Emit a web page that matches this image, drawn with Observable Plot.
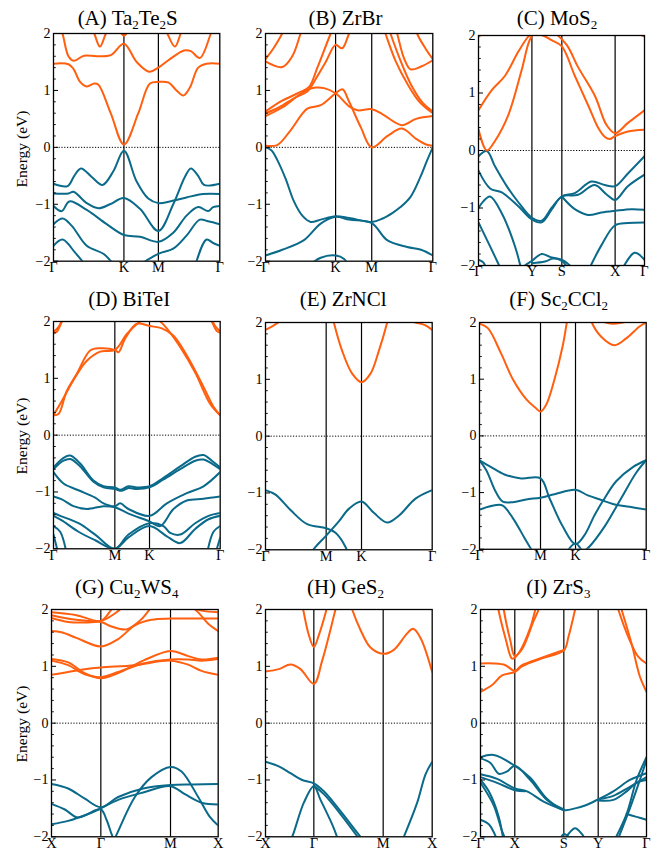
<!DOCTYPE html>
<html><head><meta charset="utf-8">
<script src="https://cdn.jsdelivr.net/npm/d3@7"></script>
<script src="https://cdn.jsdelivr.net/npm/@observablehq/plot@0.6"></script>
<style>
body{margin:0;background:#fff}
#root{position:relative;width:654px;height:849px;font-family:"Liberation Serif","Times New Roman","DejaVu Serif",serif;color:#000;overflow:hidden}
.ttl{position:absolute;width:220px;text-align:center;font-size:21px;line-height:21px;white-space:nowrap}
.ttl sub{font-size:0.62em;line-height:0;vertical-align:-0.32em}
.ylab{position:absolute;width:140px;height:20px;line-height:20px;text-align:center;font-size:15.5px;transform:rotate(-90deg);white-space:nowrap}
svg{position:absolute}
svg text{font-family:"Liberation Serif","Times New Roman","DejaVu Serif",serif}
</style></head>
<body><div id="root"></div>
<script>
// ---------- tick values ----------
const majorY = [-2, -1, 0, 1, 2];
const minorY = [-1.8,-1.6,-1.4,-1.2,-0.8,-0.6,-0.4,-0.2,0.2,0.4,0.6,0.8,1.2,1.4,1.6,1.8];
const titles = ["(A) Ta<sub>2</sub>Te<sub>2</sub>S","(B) ZrBr","(C) MoS<sub>2</sub>","(D) BiTeI","(E) ZrNCl","(F) Sc<sub>2</sub>CCl<sub>2</sub>","(G) Cu<sub>2</sub>WS<sub>4</sub>","(H) GeS<sub>2</sub>","(I) ZrS<sub>3</sub>"];

// ---------- (A) Ta2Te2S ----------
const kA = [0, 0.4235, 0.6307, 1];
const labA = ["Γ","K","M","Γ"];
const condA = [
 [[0,1.47],[0.09,1.46],[0.12,1.38],[0.16,1.15],[0.2,1.07],[0.245,1.12],[0.27,1.1],[0.344,0.6],[0.4235,0.05],[0.51,0.6],[0.58,1.12],[0.6307,1.15],[0.69,1.14],[0.74,1.0],[0.78,0.91],[0.82,1.05],[0.87,1.4],[0.92,1.47],[1,1.47]],
 [[0,2.5],[0.054,2.0],[0.09,1.6],[0.12,1.52],[0.184,1.61],[0.26,1.6],[0.345,1.62],[0.4235,1.82],[0.5,1.5],[0.575,1.33],[0.6307,1.4],[0.7,1.55],[0.785,1.7],[0.826,1.69],[0.88,1.57],[0.946,2.0],[1,2.5]],
 [[0.2,2.3],[0.245,2.0],[0.279,1.77],[0.315,2.0],[0.35,2.2]],
 [[0.39,2.1],[0.4235,1.96],[0.46,2.1]],
 [[0.65,2.3],[0.685,2.0],[0.73,1.77],[0.765,2.0],[0.8,2.3]]
];
const valA = [
 [[0,-0.64],[0.085,-0.68],[0.125,-0.5],[0.165,-0.37],[0.23,-0.52],[0.295,-0.66],[0.36,-0.42],[0.4235,-0.06],[0.5,-0.6],[0.57,-0.9],[0.6307,-0.98],[0.7,-0.95],[0.8,-0.88],[0.9,-0.82],[1,-0.82]],
 [[0,-0.81],[0.09,-0.81],[0.12,-0.78],[0.2,-0.98],[0.27,-1.07],[0.34,-1.0],[0.4235,-0.89],[0.52,-1.08],[0.6307,-1.47],[0.72,-1.0],[0.79,-0.52],[0.826,-0.37],[0.87,-0.5],[0.905,-0.66],[1,-0.64]],
 [[0,-1.03],[0.05,-1.12],[0.095,-0.95],[0.2,-1.1],[0.32,-1.35],[0.4235,-1.54],[0.52,-1.57],[0.6307,-1.66],[0.72,-1.5],[0.8,-1.2],[0.87,-1.05],[0.93,-1.12],[0.96,-1.05],[1,-1.03]],
 [[0,-1.35],[0.055,-1.25],[0.11,-1.38],[0.2,-1.73],[0.3,-1.87],[0.36,-2.05],[0.4,-2.2]],
 [[0,-1.73],[0.055,-1.62],[0.13,-1.85],[0.2,-2.1]],
 [[0.5,-2.1],[0.6307,-1.87],[0.72,-1.78],[0.8,-1.55],[0.88,-1.27],[0.93,-1.3],[1,-1.35]],
 [[0.85,-2.1],[0.92,-1.62],[0.96,-1.68],[1,-1.73]]
];

// ---------- (B) ZrBr ----------
const kB = [0, 0.419, 0.635, 1];
const labB = ["Γ","K","M","Γ"];
const condB = [
 [[0,0.03],[0.07,0.04],[0.15,0.3],[0.25,0.68],[0.33,0.74],[0.419,0.95],[0.46,1.02],[0.5,0.8],[0.57,0.35],[0.635,0.0],[0.73,0.2],[0.815,0.33],[0.9,0.15],[0.96,0.05],[1,0.03]],
 [[0,0.55],[0.1,0.7],[0.2,0.92],[0.25,1.01],[0.3,1.05],[0.35,1.04],[0.419,0.95],[0.5,0.72],[0.55,0.65],[0.635,0.67],[0.7,0.58],[0.815,0.39],[0.9,0.5],[1,0.55]],
 [[0,0.6],[0.08,0.7],[0.18,0.88],[0.25,0.98],[0.3,1.2],[0.36,1.5],[0.419,1.8],[0.458,1.74],[0.5,2.0],[0.55,2.3]],
 [[0,0.63],[0.1,0.82],[0.2,0.96],[0.26,1.06],[0.31,1.4],[0.39,2.0],[0.45,2.4]],
 [[0,1.51],[0.1,1.41],[0.16,1.6],[0.21,2.0],[0.26,2.4]],
 [[0,1.55],[0.05,1.75],[0.1,2.0],[0.15,2.3]],
 [[0.65,2.6],[0.717,2.0],[0.78,1.5],[0.847,1.12],[0.92,0.8],[1,0.6]],
 [[0.68,2.6],[0.747,2.0],[0.81,1.5],[0.87,1.1],[0.94,0.78],[1,0.63]],
 [[0.75,2.4],[0.787,2.0],[0.83,1.55],[0.867,1.37],[0.93,1.42],[1,1.53]],
 [[0.87,2.4],[0.906,2.0],[0.96,1.72],[1,1.55]]
];
const valB = [
 [[0,0],[0.035,-0.05],[0.07,-0.22],[0.12,-0.55],[0.17,-0.95],[0.22,-1.2],[0.27,-1.31],[0.33,-1.27],[0.419,-1.21],[0.5,-1.24],[0.635,-1.31],[0.7,-1.25],[0.76,-1.15],[0.807,-1.05],[0.867,-0.87],[0.926,-0.52],[0.966,-0.23],[1,0]],
 [[0,-1.9],[0.1,-1.8],[0.23,-1.63],[0.33,-1.34],[0.419,-1.22],[0.5,-1.27],[0.635,-1.33],[0.727,-1.63],[0.847,-1.75],[0.93,-1.8],[1,-1.9]],
 [[0.25,-2.1],[0.33,-1.94],[0.419,-1.9],[0.47,-1.96],[0.5,-2.1]]
];

// ---------- (C) MoS2 ----------
const kC = [0, 0.3217, 0.502, 0.823, 1];
const labC = ["Γ","Y","S","X","Γ"];
const condC = [
 [[0,0.7],[0.08,1.05],[0.16,1.3],[0.24,1.72],[0.3,1.98],[0.3217,2.02],[0.38,2.01],[0.44,1.92],[0.502,1.81],[0.58,1.3],[0.663,0.77],[0.72,0.4],[0.76,0.24],[0.79,0.2],[0.823,0.25],[0.9,0.33],[1,0.36]],
 [[0,0.37],[0.05,0.0],[0.1,0.17],[0.18,0.62],[0.26,1.4],[0.31,1.93],[0.35,2.08],[0.45,2.05],[0.53,1.84],[0.6,1.45],[0.703,0.94],[0.77,0.45],[0.823,0.3],[0.9,0.48],[1,0.7]],
 [[0.9,2.3],[0.97,2.03],[1,1.98]],
 [[0,1.98],[0.03,2.05],[0.06,2.2]]
];
const valC = [
 [[0,-0.1],[0.05,-0.01],[0.1,-0.28],[0.17,-0.62],[0.24,-0.9],[0.3217,-1.17],[0.38,-1.22],[0.44,-1.0],[0.502,-0.8],[0.58,-0.74],[0.68,-0.54],[0.76,-0.6],[0.823,-0.62],[0.9,-0.4],[1,-0.1]],
 [[0,-0.35],[0.07,-0.66],[0.14,-0.73],[0.24,-0.97],[0.3217,-1.2],[0.38,-1.25],[0.44,-1.03],[0.502,-0.8],[0.6,-0.77],[0.7,-0.6],[0.77,-0.76],[0.823,-0.86],[0.9,-0.62],[1,-0.42]],
 [[0,-1.0],[0.03,-0.88],[0.07,-0.8],[0.14,-1.09],[0.22,-1.67],[0.26,-2.1]],
 [[0,-1.25],[0.05,-1.55],[0.1,-1.85],[0.14,-2.1]],
 [[0,-1.9],[0.03,-1.95],[0.05,-2.1]],
 [[0.502,-0.8],[0.58,-1.02],[0.66,-1.12],[0.74,-1.08],[0.823,-1.05],[0.92,-1.02],[1,-1.03]],
 [[0.66,-2.1],[0.74,-1.65],[0.823,-1.3],[0.9,-1.26],[1,-1.25]],
 [[0.2,-2.2],[0.28,-2.0],[0.3217,-1.92],[0.38,-1.8],[0.43,-1.85],[0.502,-1.9],[0.55,-2.0],[0.6,-2.2]],
 [[0.3217,-1.96],[0.4,-1.93],[0.45,-1.88],[0.502,-1.92],[0.55,-2.1]],
 [[0.86,-2.1],[0.94,-1.78],[1,-1.9]]
];

// ---------- (D) BiTeI ----------
const kD = [0, 0.368, 0.576, 1];
const labD = ["Γ","M","K","Γ"];
const condD = [
 [[0,0.35],[0.03,0.37],[0.08,0.78],[0.14,1.08],[0.22,1.49],[0.28,1.53],[0.368,1.5],[0.39,1.46],[0.43,1.7],[0.5,1.96],[0.576,1.92],[0.65,1.88],[0.72,1.75],[0.8,1.4],[0.9,0.85],[0.96,0.5],[1,0.35]],
 [[0,0.35],[0.05,0.6],[0.13,1.02],[0.2,1.31],[0.28,1.47],[0.368,1.5],[0.44,1.78],[0.52,2.0],[0.58,2.1],[0.64,2.0],[0.69,1.84],[0.76,1.55],[0.85,1.1],[0.94,0.55],[1,0.35]],
 [[0,1.8],[0.02,1.82],[0.05,2.0],[0.08,2.2]],
 [[0,1.82],[0.03,1.9],[0.06,2.1]],
 [[0.92,2.2],[0.95,2.0],[0.98,1.83],[1,1.8]],
 [[0.94,2.1],[0.97,1.92],[1,1.83]]
];
const valD = [
 [[0,-0.57],[0.06,-0.4],[0.1,-0.36],[0.16,-0.5],[0.24,-0.8],[0.3,-0.9],[0.368,-0.92],[0.4,-0.96],[0.45,-0.9],[0.5,-0.92],[0.576,-0.9],[0.66,-0.75],[0.76,-0.55],[0.85,-0.38],[0.9,-0.35],[0.95,-0.45],[1,-0.57]],
 [[0,-0.6],[0.06,-0.45],[0.1,-0.42],[0.16,-0.55],[0.24,-0.82],[0.3,-0.92],[0.368,-0.95],[0.41,-0.98],[0.45,-0.93],[0.5,-0.95],[0.576,-0.92],[0.66,-0.78],[0.76,-0.6],[0.85,-0.45],[0.9,-0.43],[0.95,-0.5],[1,-0.6]],
 [[0,-0.65],[0.06,-0.85],[0.15,-0.97],[0.25,-1.1],[0.3,-1.2],[0.368,-1.25],[0.4,-1.2],[0.45,-1.3],[0.576,-1.42],[0.68,-1.2],[0.8,-1.02],[0.9,-0.9],[1,-0.65]],
 [[0,-1.08],[0.05,-1.13],[0.12,-1.25],[0.2,-1.3],[0.3,-1.25],[0.368,-1.27],[0.45,-1.38],[0.576,-1.52],[0.64,-1.6],[0.72,-1.3],[0.8,-1.15],[0.9,-1.12],[1,-1.08]],
 [[0,-1.37],[0.04,-1.42],[0.15,-1.55],[0.25,-1.75],[0.368,-2.0],[0.45,-1.75],[0.576,-1.55],[0.66,-1.6],[0.7,-1.72],[0.76,-1.75],[0.85,-1.55],[0.93,-1.42],[1,-1.37]],
 [[0,-1.42],[0.05,-1.5],[0.15,-1.7],[0.25,-1.85],[0.368,-2.0],[0.45,-1.8],[0.576,-1.6],[0.68,-1.78],[0.76,-1.9],[0.85,-1.65],[0.93,-1.48],[1,-1.42]],
 [[0,-1.6],[0.04,-1.7],[0.08,-2.1]],
 [[0.92,-2.1],[0.96,-1.7],[1,-1.6]],
 [[0,-1.75],[0.03,-2.1]],
 [[0.97,-2.1],[1,-1.8]]
];

// ---------- (E) ZrNCl ----------
const kE = [0, 0.364, 0.576, 1];
const labE = ["Γ","M","K","Γ"];
const condE = [
 [[0.38,2.4],[0.41,2.0],[0.46,1.5],[0.52,1.1],[0.576,0.95],[0.63,1.1],[0.68,1.5],[0.73,2.0],[0.76,2.4]],
 [[0,1.87],[0.05,1.95],[0.1,2.05]],
 [[0.84,2.05],[0.9,2.0],[0.96,1.95],[1,1.87]]
];
const valE = [
 [[0,-0.95],[0.06,-1.03],[0.15,-1.3],[0.25,-1.55],[0.364,-1.62],[0.42,-1.7],[0.48,-1.95],[0.51,-2.2]],
 [[0.26,-2.1],[0.3,-1.95],[0.364,-1.75],[0.44,-1.5],[0.5,-1.28],[0.576,-1.15],[0.65,-1.35],[0.73,-1.52],[0.8,-1.4],[0.9,-1.1],[1,-0.95]]
];

// ---------- (F) Sc2CCl2 ----------
const kF = [0, 0.366, 0.576, 1];
const labF = ["Γ","M","K","Γ"];
const condF = [
 [[0,1.98],[0.05,1.9],[0.13,1.45],[0.2,1.0],[0.28,0.65],[0.334,0.5],[0.366,0.43],[0.4,0.55],[0.45,1.0],[0.5,1.6],[0.524,2.0],[0.55,2.4]],
 [[0.65,2.3],[0.674,2.0],[0.73,1.75],[0.81,1.6],[0.88,1.72],[0.96,1.93],[1,2.0]],
 [[0.7,2.05],[0.8,1.98],[0.9,2.03]]
];
const valF = [
 [[0,-0.43],[0.07,-0.55],[0.15,-0.68],[0.25,-0.75],[0.366,-0.75],[0.42,-1.1],[0.5,-1.6],[0.576,-1.91],[0.63,-1.75],[0.69,-1.4],[0.74,-1.15],[0.82,-0.8],[0.92,-0.55],[1,-0.43]],
 [[0,-0.43],[0.04,-0.6],[0.1,-1.0],[0.14,-1.16],[0.2,-1.17],[0.28,-1.12],[0.366,-1.09],[0.45,-1.03],[0.576,-0.95],[0.65,-1.05],[0.73,-1.13],[0.8,-1.2],[0.9,-1.25],[1,-1.3]],
 [[0,-1.3],[0.1,-1.22],[0.14,-1.23],[0.2,-1.45],[0.27,-1.8],[0.31,-2.0],[0.34,-2.15]],
 [[0.5,-2.15],[0.576,-1.9],[0.62,-2.05],[0.66,-2.2]],
 [[0.62,-2.05],[0.66,-1.95],[0.75,-1.6],[0.85,-1.1],[0.94,-0.65],[1,-0.43]]
];

// ---------- (G) Cu2WS4 ----------
const kG = [0, 0.296, 0.714, 1];
const labG = ["X","Γ","M","X"];
const condG = [
 [[0,0.85],[0.1,0.9],[0.2,0.95],[0.296,0.98],[0.5,1.02],[0.714,1.1],[0.82,1.03],[0.9,0.92],[1,0.85]],
 [[0,1.13],[0.1,1.07],[0.2,0.88],[0.296,0.79],[0.4,0.88],[0.55,1.1],[0.714,1.27],[0.82,1.18],[0.9,1.12],[1,1.15]],
 [[0,1.1],[0.1,1.02],[0.2,0.86],[0.296,0.81],[0.4,0.9],[0.55,1.05],[0.714,1.12],[0.82,1.12],[0.9,1.1],[1,1.13]],
 [[0,1.62],[0.06,1.6],[0.15,1.5],[0.296,1.35],[0.4,1.48],[0.5,1.72],[0.6,1.82],[0.714,1.84],[0.85,1.84],[1,1.84]],
 [[0.82,2.1],[0.88,1.95],[0.94,1.75],[1,1.62]],
 [[0,1.85],[0.1,1.78],[0.2,1.77],[0.296,1.78],[0.36,1.7],[0.45,1.65],[0.53,1.8],[0.6,2.05]],
 [[0,1.9],[0.15,1.82],[0.296,1.8],[0.38,1.93],[0.45,2.1]],
 [[0,1.95],[0.15,1.9],[0.296,1.8],[0.36,2.0],[0.42,2.2]],
 [[0.82,2.05],[0.9,1.98],[1,1.95]]
];
const valG = [
 [[0,-1.07],[0.1,-1.15],[0.2,-1.33],[0.296,-1.48],[0.4,-1.3],[0.55,-1.15],[0.714,-1.09],[0.85,-1.08],[1,-1.07]],
 [[0,-1.42],[0.08,-1.52],[0.155,-1.66],[0.22,-1.6],[0.296,-1.5],[0.4,-1.35],[0.55,-1.22],[0.714,-1.11],[0.8,-1.25],[0.9,-1.4],[1,-1.43]],
 [[0.37,-2.1],[0.4,-1.9],[0.5,-1.3],[0.6,-0.95],[0.714,-0.77],[0.78,-0.85],[0.88,-1.3],[0.95,-1.65],[1,-1.8]],
 [[0,-1.78],[0.1,-1.72],[0.2,-1.62],[0.296,-1.52],[0.33,-1.7],[0.36,-1.95],[0.38,-2.1]]
];

// ---------- (H) GeS2 ----------
const kH = [0, 0.29, 0.706, 1];
const labH = ["X","Γ","M","X"];
const condH = [
 [[0,0.91],[0.08,0.95],[0.15,1.03],[0.21,0.95],[0.29,0.69],[0.34,1.1],[0.39,1.65],[0.42,2.0],[0.45,2.3]],
 [[0.2,2.4],[0.226,2.0],[0.26,1.55],[0.29,1.34],[0.32,1.55],[0.366,2.0],[0.39,2.3]],
 [[0.48,2.4],[0.52,2.0],[0.57,1.64],[0.63,1.33],[0.706,1.22],[0.77,1.29],[0.85,1.58],[0.886,1.66],[0.93,1.5],[1,0.9]]
];
const valH = [
 [[0,-0.68],[0.08,-0.76],[0.15,-0.88],[0.22,-1.0],[0.29,-1.06],[0.35,-1.2],[0.45,-1.55],[0.57,-2.0],[0.6,-2.1]],
 [[0.29,-1.1],[0.35,-1.25],[0.45,-1.6],[0.565,-2.05]],
 [[0.14,-2.1],[0.16,-2.0],[0.23,-1.4],[0.29,-1.11],[0.33,-1.35],[0.41,-1.85],[0.44,-2.1]],
 [[0.8,-2.2],[0.83,-2.0],[0.91,-1.4],[0.96,-0.9],[1,-0.68]]
];

// ---------- (I) ZrS3 ----------
const kI = [0, 0.2066, 0.502, 0.709, 1];
const labI = ["Γ","X","S","Y","Γ"];
const condI = [
 [[0,0.55],[0.07,0.67],[0.13,0.84],[0.2066,0.9],[0.25,1.0],[0.37,1.14],[0.502,1.28],[0.53,1.52],[0.57,2.0],[0.6,2.4]],
 [[0,1.05],[0.08,1.05],[0.15,1.02],[0.2066,0.92],[0.25,1.02],[0.37,1.15],[0.502,1.29]],
 [[0.08,2.6],[0.108,2.0],[0.15,1.5],[0.188,1.14],[0.2,1.14],[0.24,1.28],[0.3,1.68],[0.33,2.0],[0.36,2.4]],
 [[0.12,2.5],[0.14,2.0],[0.18,1.45],[0.2066,1.18],[0.25,1.3],[0.32,1.8],[0.35,2.0],[0.38,2.4]],
 [[0.78,2.5],[0.83,2.0],[0.89,1.52],[0.95,1.17],[1,1.05]],
 [[0.8,2.5],[0.85,2.0],[0.91,1.4],[0.96,0.82],[1,0.55]]
];
const valI = [
 [[0,-0.6],[0.08,-0.56],[0.2066,-0.75],[0.3,-0.96],[0.4,-1.33],[0.502,-1.53],[0.57,-1.5],[0.63,-1.45],[0.709,-1.34],[0.8,-1.2],[0.9,-1.0],[1,-0.88]],
 [[0,-0.62],[0.06,-0.7],[0.11,-0.89],[0.16,-0.85],[0.2066,-0.75],[0.3,-1.0],[0.4,-1.35],[0.502,-1.52]],
 [[0,-0.9],[0.1,-0.98],[0.2066,-1.15],[0.28,-1.2],[0.38,-1.38],[0.502,-1.53]],
 [[0,-0.95],[0.1,-1.05],[0.2066,-1.18],[0.27,-1.2]],
 [[0,-1.0],[0.05,-1.2],[0.11,-1.65],[0.14,-2.1]],
 [[0,-1.05],[0.08,-1.45],[0.13,-1.9],[0.16,-2.1]],
 [[0,-1.7],[0.05,-1.78],[0.1,-2.05]],
 [[0.709,-1.34],[0.8,-1.28],[0.9,-1.12],[1,-0.95]],
 [[0.709,-1.36],[0.8,-1.35],[0.88,-1.2],[0.94,-1.05],[1,-1.0]],
 [[0.8,-2.1],[0.88,-1.6],[0.94,-1.0],[1,-0.6]],
 [[0.82,-2.1],[0.9,-1.5],[0.96,-1.0],[1,-0.65]],
 [[0.88,-1.6],[0.94,-1.65],[1,-1.7]],
 [[0.5,-2.1],[0.53,-1.95],[0.57,-1.85],[0.61,-1.95],[0.64,-2.1]],
 [[0.47,-2.1],[0.502,-1.95],[0.53,-2.0]]
];

// ---------- assembly ----------
const panels = [
 {k:kA, lab:labA, cond:condA, val:valA},
 {k:kB, lab:labB, cond:condB, val:valB},
 {k:kC, lab:labC, cond:condC, val:valC},
 {k:kD, lab:labD, cond:condD, val:valD},
 {k:kE, lab:labE, cond:condE, val:valE},
 {k:kF, lab:labF, cond:condF, val:valF},
 {k:kG, lab:labG, cond:condG, val:valG},
 {k:kH, lab:labH, cond:condH, val:valH},
 {k:kI, lab:labI, cond:condI, val:valI}
];
// frame boxes (px) and title placement
const boxes = [
 {x:52.7,y:33.3,w:166.3,h:227.7,tc:127.7,tb:26},
 {x:265,y:33.3,w:167.3,h:227.7,tc:345.5,tb:26},
 {x:478.3,y:35,w:166,h:230,tc:557,tb:26},
 {x:53.3,y:321.3,w:166.7,h:227.3,tc:129.2,tb:306.7},
 {x:265,y:321.5,w:166.7,h:227.3,tc:343.2,tb:306.7},
 {x:479.3,y:321.8,w:166.7,h:226.8,tc:558.7,tb:306.7},
 {x:51,y:609.3,w:166.7,h:227.3,tc:126.7,tb:595},
 {x:265,y:609.3,w:166.7,h:227.3,tc:345.5,tb:595},
 {x:480,y:609.3,w:166,h:227.3,tc:558.3,tb:595}
];
const ORANGE = "#ff5f0f", TEAL = "#0b6a8a";
const FONT = '"Liberation Serif","Times New Roman","DejaVu Serif",serif';
const fmt = d => d < 0 ? "\u2212" + (-d) : String(d);
const table = bands => bands.flatMap((b, i) => b.map(([k, e]) => ({k, e, band: i})));

const root = document.getElementById("root");
panels.forEach((p, i) => {
  const b = boxes[i];
  const ml = 42, mr = 12, mt = 6, mb = 24;
  const svg = Plot.plot({
    width: b.w + ml + mr, height: b.h + mt + mb,
    marginLeft: ml, marginRight: mr, marginTop: mt, marginBottom: mb,
    x: {domain: [0, 1], axis: null},
    y: {domain: [-2, 2], axis: null},
    style: {fontFamily: FONT, background: "transparent", color: "#000", overflow: "visible"},
    marks: [
      Plot.ruleY([0], {stroke: "#000", strokeWidth: 1, strokeDasharray: "1.2,1.6"}),
      Plot.ruleX(p.k.slice(1, -1), {stroke: "#000", strokeWidth: 1.2}),
      Plot.line(table(p.val), {x: "k", y: "e", z: "band", stroke: TEAL, strokeWidth: 2, curve: "catmull-rom", clip: true}),
      Plot.line(table(p.cond), {x: "k", y: "e", z: "band", stroke: ORANGE, strokeWidth: 2, curve: "catmull-rom", clip: true}),
      Plot.ruleY(minorY, {stroke: "#000", strokeWidth: 0.9, insetRight: b.w - 2.8}),
      Plot.ruleY(majorY, {stroke: "#000", strokeWidth: 1, insetRight: b.w - 5}),
      Plot.frame({stroke: "#000", strokeWidth: 1.3}),
      Plot.text(majorY, {y: d => d, text: fmt, frameAnchor: "left", textAnchor: "end", dx: -3, fontSize: 14, fontFamily: FONT}),
      Plot.text(p.k, {x: d => d, text: (d, j) => p.lab[j], frameAnchor: "bottom", lineAnchor: "top", dy: 0.5, fontSize: 14.5, fontFamily: FONT})
    ]
  });
  svg.style.left = (b.x - ml) + "px";
  svg.style.top = (b.y - mt) + "px";
  root.appendChild(svg);

  const t = document.createElement("div");
  t.className = "ttl";
  t.innerHTML = titles[i];
  t.style.left = (b.tc - 110) + "px";
  t.style.top = (b.tb - 17.6) + "px";
  root.appendChild(t);

  if (i % 3 === 0) {
    const yl = document.createElement("div");
    yl.className = "ylab";
    yl.textContent = "Energy (eV)";
    yl.style.left = (21.7 - 70) + "px";
    yl.style.top = (b.y + b.h / 2 + 1.5 - 10) + "px";
    root.appendChild(yl);
  }
});
</script></body></html>
